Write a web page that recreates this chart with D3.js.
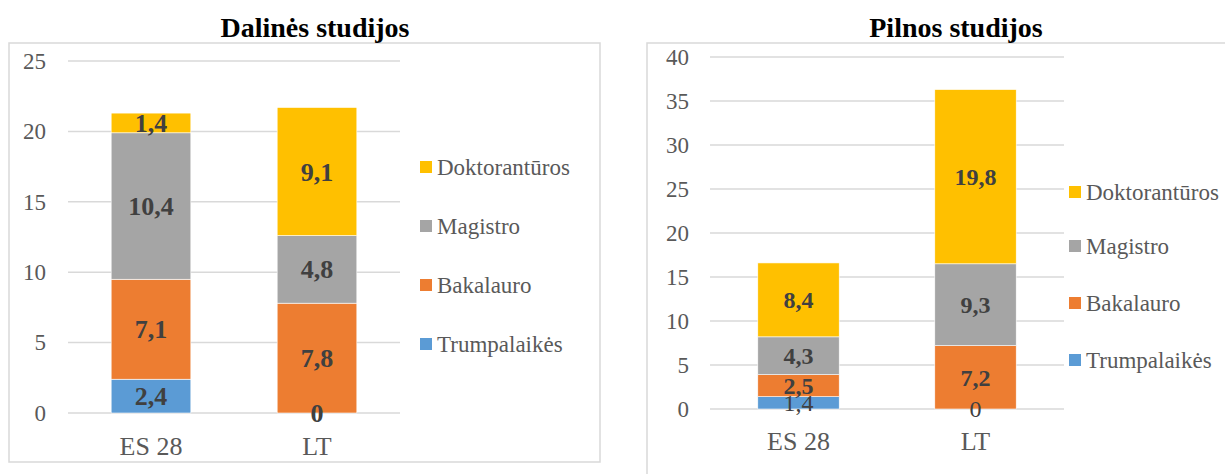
<!DOCTYPE html>
<html>
<head>
<meta charset="utf-8">
<script src="https://cdn.jsdelivr.net/npm/d3@7"></script>
<style>
  body { margin: 0; background: #fff; }
  svg { display: block; font-family: "Liberation Serif", "Times New Roman", serif; }
</style>
</head>
<body>
<svg id="chart" width="1225" height="474"></svg>
<script>
// data
const categories = ["ES 28", "LT"];
const series_names = ["Trumpalaikės", "Bakalauro", "Magistro", "Doktorantūros"];
const series_colors = ["#5B9BD5", "#ED7D31", "#A5A5A5", "#FFC000"];

const dalines_trump = [2.4, 0];
const dalines_bak = [7.1, 7.8];
const dalines_mag = [10.4, 4.8];
const dalines_dok = [1.4, 9.1];
const dalines_ticks = [0, 5, 10, 15, 20, 25];

const pilnos_trump = [1.4, 0];
const pilnos_bak = [2.5, 7.2];
const pilnos_mag = [4.3, 9.3];
const pilnos_dok = [8.4, 19.8];
const pilnos_ticks = [0, 5, 10, 15, 20, 25, 30, 35, 40];

const svg = d3.select("#chart");

const build_rows = (lists) => categories.map((c, i) => {
    const row = { cat: c };
    series_names.forEach((s, k) => row[s] = lists[k][i]);
    return row;
});

const fmt = v => String(v).replace(".", ",");

const draw_panel = (cfg) => {
    const g = svg.append("g");

    // frame
    g.append("rect")
     .attr("x", cfg.box[0]).attr("y", cfg.box[1])
     .attr("width", cfg.box[2]).attr("height", cfg.box[3])
     .attr("fill", "none").attr("stroke", "#D9D9D9").attr("stroke-width", 1.5);

    // title
    g.append("text")
     .attr("x", cfg.title_x).attr("y", 37)
     .attr("text-anchor", "middle")
     .attr("font-size", 28).attr("font-weight", "bold").attr("fill", "#000")
     .text(cfg.title);

    const xScale = d3.scaleBand()
                     .domain(categories)
                     .range([cfg.x0, cfg.x1])
                     .paddingInner(cfg.pad)
                     .paddingOuter(cfg.pad / 2);

    const yScale = d3.scaleLinear()
                     .domain([0, d3.max(cfg.ticks)])
                     .range([cfg.y_bottom, cfg.y_top]);

    // grid
    g.append("g")
     .selectAll("line")
     .data(cfg.ticks)
     .enter().append("line")
        .attr("x1", cfg.x0).attr("x2", cfg.x1)
        .attr("y1", d => yScale(d)).attr("y2", d => yScale(d))
        .attr("stroke", "#D9D9D9").attr("stroke-width", 1.5);

    const yAxis = d3.axisLeft(yScale).tickValues(cfg.ticks).tickSize(0).tickPadding(0);
    const ya = g.append("g")
                .attr("transform", `translate(${cfg.tick_x}, 0)`)
                .call(yAxis);
    ya.select(".domain").remove();
    ya.selectAll("text").attr("font-size", 23).attr("fill", "#595959")
      .attr("font-family", "Liberation Serif, Times New Roman, serif");

    const xAxis = d3.axisBottom(xScale).tickSize(0).tickPadding(0);
    const xa = g.append("g")
                .attr("transform", `translate(0, ${cfg.xlabel_y})`)
                .call(xAxis);
    xa.select(".domain").remove();
    xa.selectAll("text").attr("font-size", 26).attr("fill", "#595959")
      .attr("dy", 0)
      .attr("font-family", "Liberation Serif, Times New Roman, serif");

    // stacked bars
    const stacked = d3.stack().keys(series_names)(cfg.rows);

    const layer = g.selectAll(".layer")
                   .data(stacked)
                   .enter().append("g")
                   .attr("fill", (d, i) => series_colors[i]);

    layer.selectAll("rect")
         .data(d => d)
         .enter().append("rect")
            .attr("x", d => xScale(d.data.cat))
            .attr("y", d => yScale(d[1]))
            .attr("width", xScale.bandwidth())
            .attr("height", d => yScale(d[0]) - yScale(d[1]))
            .attr("stroke", "#fff").attr("stroke-width", 0.6);

    // data labels
    stacked.forEach((s, k) => {
        g.append("g")
         .selectAll("text")
         .data(s)
         .enter().append("text")
            .attr("x", d => xScale(d.data.cat) + xScale.bandwidth() / 2)
            .attr("y", d => (yScale(d[0]) + yScale(d[1])) / 2)
            .attr("dy", "0.35em")
            .attr("text-anchor", "middle")
            .attr("font-size", cfg.label_size)
            .attr("font-weight", k === 0 && !cfg.first_bold ? "normal" : "bold")
            .attr("fill", "#404040")
            .text(d => fmt(d.data[s.key]));
    });

    // legend, top entry is the last series
    const leg = g.append("g");
    series_names.slice().reverse().forEach((s, i) => {
        const k = series_names.length - 1 - i;
        const cy = cfg.leg_y[i];
        leg.append("rect")
           .attr("x", cfg.leg_x).attr("y", cy - 6)
           .attr("width", 12).attr("height", 12)
           .attr("fill", series_colors[k]);
        leg.append("text")
           .attr("x", cfg.leg_x + 17).attr("y", cy)
           .attr("dy", "0.35em")
           .attr("font-size", 23).attr("fill", "#595959")
           .text(s);
    });
};

draw_panel({
    title: "Dalinės studijos",
    title_x: 315,
    box: [9, 43, 591, 419],
    rows: build_rows([dalines_trump, dalines_bak, dalines_mag, dalines_dok]),
    ticks: dalines_ticks,
    x0: 68, x1: 400, pad: 0.52,
    y_top: 61, y_bottom: 413,
    tick_x: 46,
    xlabel_y: 455,
    label_size: 26,
    first_bold: true,
    leg_x: 420,
    leg_y: [167, 226, 285, 344]
});

draw_panel({
    title: "Pilnos studijos",
    title_x: 956,
    box: [647, 43, 640, 460],
    rows: build_rows([pilnos_trump, pilnos_bak, pilnos_mag, pilnos_dok]),
    ticks: pilnos_ticks,
    x0: 710, x1: 1064, pad: 0.54,
    y_top: 57, y_bottom: 409,
    tick_x: 689,
    xlabel_y: 450,
    label_size: 24,
    first_bold: false,
    leg_x: 1069,
    leg_y: [192, 246, 303, 360]
});
</script>
</body>
</html>
